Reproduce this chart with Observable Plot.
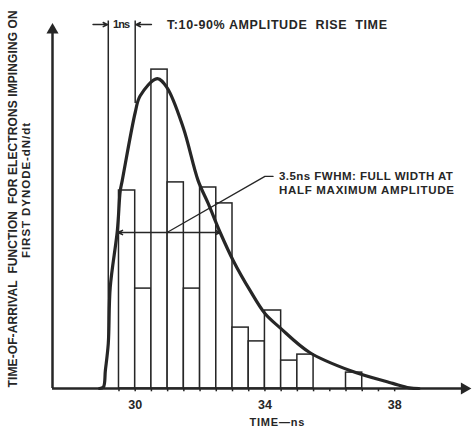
<!DOCTYPE html>
<html>
<head>
<meta charset="utf-8">
<script src="https://cdn.jsdelivr.net/npm/d3@7"></script>
<script src="https://cdn.jsdelivr.net/npm/@observablehq/plot@0.6"></script>
<style>
  html, body { margin: 0; padding: 0; background: #fff; }
  svg { display: block; }
</style>
</head>
<body>
<div id="chart"></div>
<script>
// Histogram bins (0.5 ns wide), start time in ns
const binStart = [29.5, 30, 30.5, 31, 31.5, 32, 32.5, 33, 33.5, 34, 34.5, 35, 35.5, 36, 36.5];
const binCount = [66, 33.3, 106.3, 68.7, 33.3, 67, 61.7, 20.3, 15.7, 26, 9.3, 11.3, 0, 0, 5.3];
// Smooth time-of-arrival curve
const curveT = [28.9, 29.02, 29.08, 29.17, 29.23, 29.45, 29.54, 29.6, 30.0, 30.15, 30.68, 30.98, 31.48, 31.94, 32.25, 32.62, 33.02, 33.54, 34.0, 34.46, 35.38, 36.62, 37.94, 38.45, 38.75];
const curveV = [0, 0.5, 6, 15, 33.7, 52.7, 66, 69.3, 92, 97.5, 103.3, 100.3, 87, 69.3, 61.7, 52, 42.7, 32.7, 25, 20.3, 12, 6, 1.7, 0.2, 0];
const tickLabels = [30, 34, 38];
const minorTicks = [29.5, 30, 30.5, 31, 31.5, 32, 32.5, 33, 33.5, 34, 34.5, 35, 35.5, 36, 36.5, 37, 37.5, 38];

const yLabel1 = "TIME-OF-ARRIVAL  FUNCTION  FOR ELECTRONS IMPINGING ON";
const yLabel2 = "FIRST DYNODE-dN/dt";
const xLabel = "TIME—ns";
const riseLabel = "T:10-90% AMPLITUDE  RISE  TIME";
const nsLabel = "1ns";
const fwhm1 = "3.5ns FWHM: FULL WIDTH AT";
const fwhm2 = "HALF MAXIMUM AMPLITUDE";

const bars = binStart.map((t, i) => ({t, v: binCount[i]}));
const curve = curveT.map((t, i) => ({t, v: curveV[i]}));

const ink = "#262626";
const x0 = 27.45, x1 = 40.4;

const chart = Plot.plot({
  width: 475,
  height: 431,
  marginLeft: 52,
  marginRight: 3,
  marginTop: 16,
  marginBottom: 43,
  x: {domain: [x0, x1], axis: null},
  y: {domain: [0, 124], axis: null},
  style: {fontFamily: "'Liberation Sans', Arial, sans-serif", color: ink, background: "#fff"},
  marks: [
    Plot.rectY(bars, {x1: "t", x2: d => d.t + 0.5, y: "v", fill: "white", stroke: ink, strokeWidth: 1.5}),
    // rise time markers
    Plot.ruleX([29.17], {y1: 14, y2: 122.5, stroke: ink, strokeWidth: 1.5}),
    Plot.ruleX([30.0], {y1: 95, y2: 122.5, stroke: ink, strokeWidth: 1.5}),
    Plot.arrow([{a: 28.7, b: 29.15}, {a: 30.5, b: 30.02}], {x1: "a", x2: "b", y1: 121.3, y2: 121.3, stroke: ink, strokeWidth: 1.5, headLength: 5, headAngle: 50}),
    Plot.text([nsLabel], {x: 29.58, y: 121.3, text: d => d, fontSize: 11, fontWeight: "bold", fill: ink}),
    Plot.text([riseLabel], {x: 30.98, y: 121.3, text: d => d, textAnchor: "start", fontSize: 12.5, fontWeight: "bold", fill: ink}),
    // FWHM double arrow
    Plot.arrow([{a: 31.0, b: 29.47}, {a: 31.0, b: 32.62}], {x1: "a", x2: "b", y1: 52, y2: 52, stroke: ink, strokeWidth: 1.5, headLength: 5, headAngle: 50}),
    Plot.line([{t: 30.98, v: 52}, {t: 34.0, v: 70.7}, {t: 34.25, v: 70.7}], {x: "t", y: "v", stroke: ink, strokeWidth: 1.3}),
    Plot.text([fwhm1], {x: 34.43, y: 70.7, text: d => d, textAnchor: "start", fontSize: 11.5, fontWeight: "bold", fill: ink}),
    Plot.text([fwhm2], {x: 34.43, y: 66.2, text: d => d, textAnchor: "start", fontSize: 11.5, fontWeight: "bold", fill: ink}),
    // curve
    Plot.line(curve, {x: "t", y: "v", curve: "catmull-rom", stroke: ink, strokeWidth: 3.2}),
    // axes
    Plot.ruleX([x0], {y1: 0, y2: 119, stroke: ink, strokeWidth: 2.5}),
    Plot.dot([{t: x0, v: 119.5}], {x: "t", y: "v", symbol: "triangle", r: 4.5, fill: ink, stroke: "none"}),
    Plot.ruleY([0], {x1: x0, x2: 40.1, stroke: ink, strokeWidth: 2.5}),
    Plot.dot([{t: 40.15, v: 0}], {x: "t", y: "v", symbol: "triangle", r: 4.5, rotate: 90, fill: ink, stroke: "none"}),
    Plot.ruleX(minorTicks, {x: d => d, y1: 0, y2: -1.1, stroke: ink, strokeWidth: 1.5}),
    Plot.text(tickLabels, {x: d => d, y: -5.4, text: d => String(d), fontSize: 12.5, fontWeight: "bold", fill: ink}),
    Plot.text([xLabel], {x: 34.37, y: -11.3, text: d => d, fontSize: 11, fontWeight: "bold", fill: ink}),
    Plot.text([yLabel1], {x: 26.25, y: 63.2, text: d => d, rotate: -90, fontSize: 12, fontWeight: "bold", fill: ink}),
    Plot.text([yLabel2], {x: 26.65, y: 66, text: d => d, rotate: -90, fontSize: 11.5, fontWeight: "bold", fill: ink})
  ]
});
document.getElementById("chart").appendChild(chart);

// stretch lettering to match the wide hand lettering of the original
const widths = new Map([
  [yLabel1, 377], [yLabel2, 135], [riseLabel, 220], [fwhm1, 174], [fwhm2, 175], [xLabel, 55], [nsLabel, 17]
]);
d3.select(chart).selectAll("text").each(function() {
  const t = this.textContent;
  if (widths.has(t)) {
    this.setAttribute("textLength", widths.get(t));
    this.setAttribute("lengthAdjust", "spacing");
  }
});
</script>
</body>
</html>
